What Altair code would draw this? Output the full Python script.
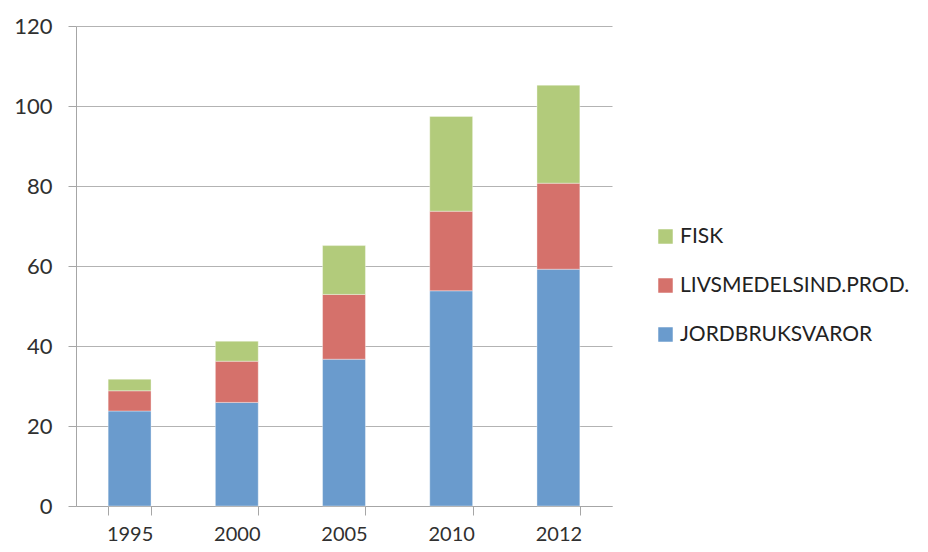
import altair as alt
import pandas as pd

years = ["1995", "2000", "2005", "2010", "2012"]
series = ["JORDBRUKSVAROR", "LIVSMEDELSIND.PROD.", "FISK"]
jordbruksvaror = [23.75, 25.9, 36.7, 53.8, 59.2]
livsmedel = [5.05, 10.3, 16.2, 19.9, 21.5]
fisk = [2.9, 5.0, 12.2, 23.7, 24.5]
colors = ["#6A9BCD", "#D5716B", "#B2CB7B"]
y_ticks = [0, 20, 40, 60, 80, 100, 120]

rows = []
for i, y in enumerate(years):
    for k, (name, vals) in enumerate(zip(series, [jordbruksvaror, livsmedel, fisk])):
        rows.append({"year": y, "series": name, "value": vals[i], "ord": k})
df = pd.DataFrame(rows)

FONT = "Lato"
legend_order = ["FISK", "LIVSMEDELSIND.PROD.", "JORDBRUKSVAROR"]
color_map = dict(zip(series, colors))

chart = alt.Chart(df).mark_bar(stroke="white", strokeWidth=0.6, strokeOpacity=0.6).encode(
    x=alt.X("year:N", sort=years, title=None,
            scale=alt.Scale(paddingInner=0.6, paddingOuter=0.3),
            axis=alt.Axis(labelAngle=0, tickBand="extent", tickSize=9, labelPadding=9,
                          domainColor="#A6A6A6", tickColor="#A6A6A6", grid=False,
                          labelFont=FONT, labelFontSize=20, labelColor="#303030")),
    y=alt.Y("value:Q", stack="zero", title=None,
            scale=alt.Scale(domain=[0, 120], nice=False),
            axis=alt.Axis(values=y_ticks, tickSize=8, labelPadding=16,
                          domainColor="#A6A6A6", tickColor="#A6A6A6",
                          gridColor="#B3B3B3", gridWidth=1.2,
                          labelFont=FONT, labelFontSize=22, labelColor="#303030")),
    color=alt.Color("series:N",
                    scale=alt.Scale(domain=legend_order,
                                    range=[color_map[s] for s in legend_order]),
                    legend=alt.Legend(title=None, orient="none", legendX=579, legendY=200,
                                      symbolType="square", symbolSize=210,
                                      symbolStrokeWidth=0, labelFont=FONT, labelFontSize=21,
                                      labelColor="#222222", rowPadding=27, labelOffset=4,
                                      labelLimit=0, padding=0)),
    order=alt.Order("ord:Q", sort="ascending"),
).properties(
    width=536, height=480,
    autosize=alt.AutoSizeParams(type="none"),
    padding={"left": 68, "top": 18, "right": 308, "bottom": 38},
).configure_view(stroke=None)

chart.save("out.html", embed_options={"renderer": "svg", "actions": False})
